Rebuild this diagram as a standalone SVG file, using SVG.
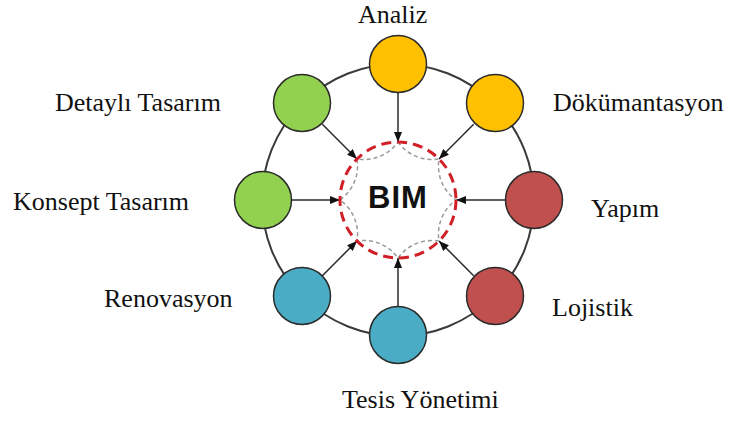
<svg xmlns="http://www.w3.org/2000/svg" width="730" height="421" viewBox="0 0 730 421">
  <style>
    .ring { fill: none; stroke: #3a3a3a; stroke-width: 2; }
    .node { stroke: #2a2a2a; stroke-width: 1.5; }
    .green { fill: #92D050; }
    .orange { fill: #FFC000; }
    .red { fill: #C0504D; }
    .blue { fill: #4BACC6; }
    .arrow { stroke: #2a2a2a; stroke-width: 1.5; fill: none; marker-end: url(#head); }
    .label { font-family: "Liberation Serif", "Times New Roman", serif; font-size: 26px; fill: #111; }
    .hub-red { fill: none; stroke: #D01F26; stroke-width: 3; stroke-dasharray: 10 6; }
    .hub-grey { fill: none; stroke: #9a9a9a; stroke-width: 1.5; stroke-dasharray: 4 3; }
    .hub-text { font-family: "Liberation Sans", Arial, sans-serif; font-weight: bold; font-size: 31px; fill: #111; }
  </style>
  <defs>
    <marker id="head" markerUnits="userSpaceOnUse" markerWidth="10" markerHeight="8" refX="10" refY="4" orient="auto">
      <path d="M0,0 L10,4 L0,8 z" fill="#111"/>
    </marker>
  </defs>

  <rect width="730" height="421" fill="#ffffff"/>

  <!-- connectors: outer ring and spokes into the hub -->
  <g id="connectors">
    <circle class="ring" cx="398" cy="200" r="136"/>
    <line class="arrow" x1="398" y1="92" x2="398" y2="142"/>
    <line class="arrow" x1="473.66" y1="124.34" x2="439.01" y2="158.99"/>
    <line class="arrow" x1="505" y1="200" x2="456" y2="200"/>
    <line class="arrow" x1="473.66" y1="275.66" x2="439.01" y2="241.01"/>
    <line class="arrow" x1="398" y1="307" x2="398" y2="258"/>
    <line class="arrow" x1="322.34" y1="275.66" x2="356.99" y2="241.01"/>
    <line class="arrow" x1="291" y1="200" x2="340" y2="200"/>
    <line class="arrow" x1="322.34" y1="124.34" x2="356.99" y2="158.99"/>
  </g>

  <!-- central hub -->
  <g id="bim">
    <path class="hub-grey" d="M398,142 A42,42 0 0 0 439.01,158.99 A42,42 0 0 0 456,200 A42,42 0 0 0 439.01,241.01 A42,42 0 0 0 398,258 A42,42 0 0 0 356.99,241.01 A42,42 0 0 0 340,200 A42,42 0 0 0 356.99,158.99 A42,42 0 0 0 398,142 Z"/>
    <circle class="hub-red" cx="398" cy="200" r="58"/>
    <text class="hub-text" x="398" y="208" text-anchor="middle" letter-spacing="1">BIM</text>
  </g>

  <g id="analiz">
    <circle class="node orange" cx="398" cy="64" r="28.5"/>
    <text class="label" x="358" y="23">Analiz</text>
  </g>
  <g id="dokumantasyon">
    <circle class="node orange" cx="495" cy="103" r="28.5"/>
    <text class="label" x="553" y="111">Dökümantasyon</text>
  </g>
  <g id="yapim">
    <circle class="node red" cx="534" cy="200" r="28.5"/>
    <text class="label" x="591" y="217">Yapım</text>
  </g>
  <g id="lojistik">
    <circle class="node red" cx="495" cy="296" r="28.5"/>
    <text class="label" x="552" y="316">Lojistik</text>
  </g>
  <g id="tesis-yonetimi">
    <circle class="node blue" cx="398" cy="335" r="28.5"/>
    <text class="label" x="342" y="408">Tesis Yönetimi</text>
  </g>
  <g id="renovasyon">
    <circle class="node blue" cx="302" cy="296" r="28.5"/>
    <text class="label" x="104" y="307">Renovasyon</text>
  </g>
  <g id="konsept-tasarim">
    <circle class="node green" cx="263" cy="200" r="28.5"/>
    <text class="label" x="13" y="210">Konsept Tasarım</text>
  </g>
  <g id="detayli-tasarim">
    <circle class="node green" cx="302" cy="103" r="28.5"/>
    <text class="label" x="55" y="111">Detaylı Tasarım</text>
  </g>
</svg>
